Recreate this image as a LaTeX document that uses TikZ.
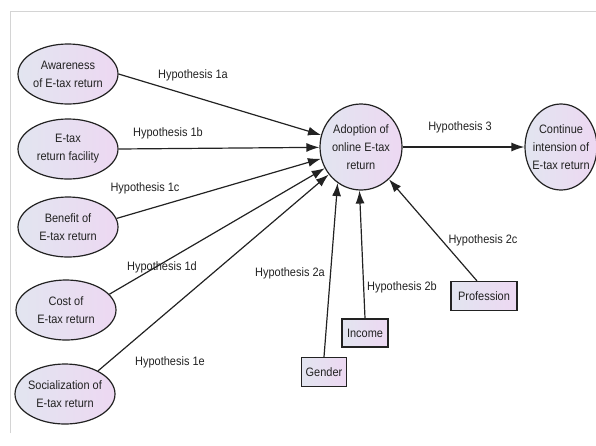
\documentclass[tikz,border=0pt]{standalone}
\usepackage{fontspec}
\setmainfont{Liberation Sans}[FakeStretch=0.9]
\usetikzlibrary{arrows.meta,shapes.geometric}
\definecolor{lb}{HTML}{E2E5F0}
\definecolor{lp}{HTML}{EDD8F2}
\definecolor{framegray}{HTML}{D4D4D4}
\definecolor{ink}{HTML}{222222}
\begin{document}
\begin{tikzpicture}[x=1pt,y=-1pt,
  every node/.style={font=\fontsize{12.2}{18}\selectfont, text=ink},
  construct/.style={ellipse, draw=ink, line width=1.2pt, left color=lb, right color=lp,
    align=center, inner ysep=0pt, inner xsep=-2pt, minimum width=100pt, minimum height=60pt},
  var/.style={rectangle, draw=ink, line width=1.3pt, left color=lb, right color=lp,
    inner sep=0pt, minimum height=29pt},
  link/.style={draw=ink, line width=1.2pt, -{Latex[length=13pt,width=9pt]}},
  hyp/.style={inner sep=1pt}]
\useasboundingbox (0,0) rectangle (596,445);
\draw[framegray, line width=1pt] (10,433) -- (10,11) -- (596,11);

\node[construct] (aw) at (68,74) {Awareness\\of E-tax return};
\node[construct] (fa) at (68,149) {E-tax\\return facility};
\node[construct] (be) at (68,227) {Benefit of\\E-tax return};
\node[construct] (co) at (66,310) {Cost of\\E-tax return};
\node[construct] (so) at (65,394) {Socialization of\\E-tax return};
\node[construct, minimum width=82pt, minimum height=86pt] (ad) at (361,147) {Adoption of\\online E-tax\\return};
\node[construct, inner xsep=-6pt, minimum width=72pt, minimum height=86pt] (ci) at (561,147) {Continue\\intension of\\E-tax return};

\node[var, minimum width=45pt] (ge) at (324,372) {Gender};
\node[var, minimum width=46pt, minimum height=28pt] (in) at (365,333) {Income};
\node[var, minimum width=66pt] (pr) at (484,296) {Profession};

\draw[link] (aw.east) -- (ad);
\draw[link] (fa.east) -- (ad);
\draw[link] (be.10) -- (ad);
\draw[link] (co.20) -- (ad);
\draw[link] (so.35) -- (ad);
\draw[link] (ge.north) -- (ad.237);
\draw[link] (in.north) -- (ad.268);
\draw[link] (pr.115) -- (ad);
\draw[link] (ad) -- (ci);

\node[hyp] (h1a) at (193,75) {Hypothesis 1a};
\node[hyp] (h1b) at (168,133) {Hypothesis 1b};
\node[hyp] (h1c) at (145,188) {Hypothesis 1c};
\node[hyp] (h1d) at (162,267) {Hypothesis 1d};
\node[hyp] (h1e) at (170,362) {Hypothesis 1e};
\node[hyp] (h2a) at (290,273) {Hypothesis 2a};
\node[hyp] (h2b) at (402,287) {Hypothesis 2b};
\node[hyp] (h2c) at (483,240) {Hypothesis 2c};
\node[hyp] (h3) at (460,127) {Hypothesis 3};
\end{tikzpicture}
\end{document}
